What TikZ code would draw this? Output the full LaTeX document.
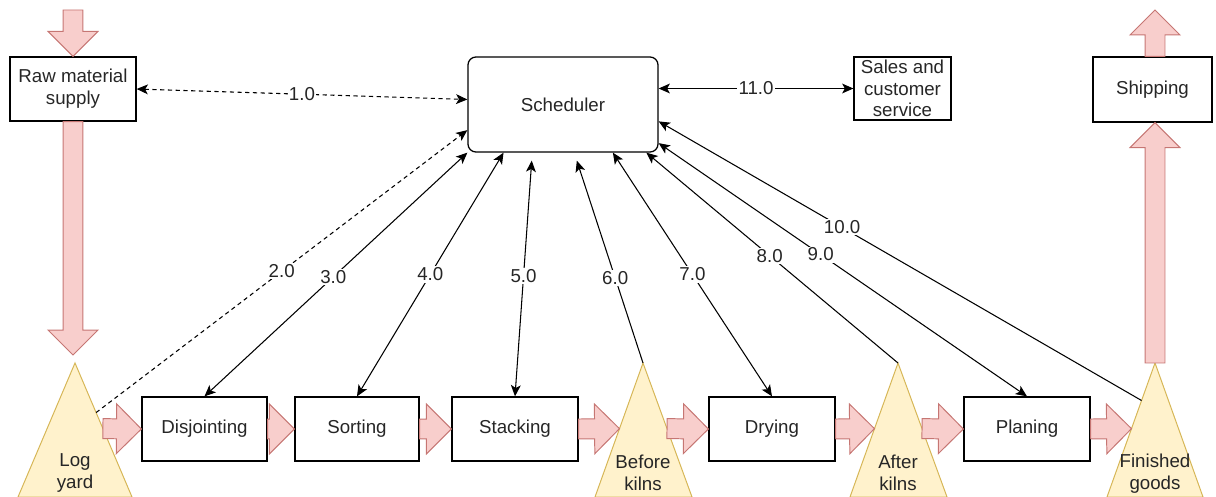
\documentclass[tikz,border=0pt]{standalone}
\usepackage{fontspec}
\setmainfont{Liberation Sans}
\usepackage{tikz}
\usetikzlibrary{arrows.meta,calc}
\definecolor{flowfill}{HTML}{F8CECC}
\definecolor{flowline}{HTML}{B85450}
\definecolor{pilefill}{HTML}{FFF2CC}
\definecolor{pileline}{HTML}{D6B656}
\newcommand{\diagfont}{\fontsize{13.3}{15.5}\selectfont}
\tikzset{
	box/.style={rectangle,draw,line width=0.9pt,minimum width=3.15cm,minimum height=1.6cm,align=center,font=\diagfont,text=black!85},
	pile/.style={fill=pilefill,draw=pileline,line width=0.7pt},
	piletext/.style={align=center,font=\diagfont,text=black!85,inner sep=0pt},
	flow/.style={fill=flowfill,draw=flowline!80,line width=0.7pt,line join=miter},
	link/.style={line width=0.75pt},
	lbl/.style={fill=white,inner sep=1pt,font=\diagfont,text=black!85}
}
% block arrow from #1 to #2
\newcommand{\flowarrow}[2]{%
  \draw[flow] let \p1=(#1), \p2=(#2), \n1={veclen(\x2-\x1,\y2-\y1)},
    \n2={(\x2-\x1)/\n1}, \n3={(\y2-\y1)/\n1} in
    ({\x1-7.1pt*(\n3)},{\y1+7.1pt*(\n2)})
    -- ({\x2-17.7pt*(\n2)-7.1pt*(\n3)},{\y2-17.7pt*(\n3)+7.1pt*(\n2)})
    -- ({\x2-17.7pt*(\n2)-17.7pt*(\n3)},{\y2-17.7pt*(\n3)+17.7pt*(\n2)})
    -- (\x2,\y2)
    -- ({\x2-17.7pt*(\n2)+17.7pt*(\n3)},{\y2-17.7pt*(\n3)-17.7pt*(\n2)})
    -- ({\x2-17.7pt*(\n2)+7.1pt*(\n3)},{\y2-17.7pt*(\n3)-7.1pt*(\n2)})
    -- ({\x1+7.1pt*(\n3)},{\y1-7.1pt*(\n2)}) -- cycle;
}

\begin{document}
\begin{tikzpicture}[x=0.025cm,y=-0.025cm,>={Stealth[length=8pt,width=7pt,inset=2pt]}]
\useasboundingbox (0,0) rectangle (1216,497);

% piles
\coordinate (logtop) at (75,363);
\coordinate (logL) at (18,497);
\coordinate (logR) at (132,497);
\coordinate (beftop) at (643,363);
\coordinate (befL) at (595,497);
\coordinate (befR) at (692,497);
\coordinate (afttop) at (898,363);
\coordinate (aftL) at (850,497);
\coordinate (aftR) at (947,497);
\coordinate (fintop) at (1155,363);
\coordinate (finL) at (1107,497);
\coordinate (finR) at (1203,497);
\draw[pile] (logtop) -- (logR) -- (logL) -- cycle;
\draw[pile] (beftop) -- (befR) -- (befL) -- cycle;
\draw[pile] (afttop) -- (aftR) -- (aftL) -- cycle;
\draw[pile] (fintop) -- (finR) -- (finL) -- cycle;
\node[piletext] (logyard) at (75,473) {Log\\yard};
\node[piletext] (before) at (643,473) {Before\\kilns};
\node[piletext] (after) at (898,473) {After\\kilns};
\node[piletext] (finished) at (1155,474) {Finished\\goods};

% boxes
\node[box] (raw) at (73,89) {Raw material\\supply};
\node[box,rounded corners=0.2cm,minimum width=4.75cm,minimum height=2.375cm] (sched) at (563,104.5) {Scheduler};
\node[box,inner sep=1pt,minimum width=2.425cm,minimum height=1.575cm] (sales) at (902.5,88.5) {Sales and\\customer\\service};
\node[box,minimum width=2.975cm,minimum height=1.625cm] (ship) at (1152.5,89.5) {Shipping};
\node[box,minimum width=3.125cm] (disj) at (204.5,429) {Disjointing};
\node[box,minimum width=3.1cm] (sort) at (357,429) {Sorting};
\node[box] (stack) at (515,429) {Stacking};
\node[box] (dry) at (772,429) {Drying};
\node[box] (plan) at (1027,429) {Planing};

% material flow
\coordinate (rawin) at (73,10);
\coordinate (login) at (73,355);
\coordinate (shipout) at (1155,10);
\flowarrow{rawin}{raw.north}
\flowarrow{raw.south}{login}
\flowarrow{$(logtop)!0.49!(logR)$}{disj.west}
\flowarrow{disj.east}{sort.west}
\flowarrow{sort.east}{stack.west}
\flowarrow{stack.east}{$(beftop)!0.49!(befL)$}
\flowarrow{$(beftop)!0.49!(befR)$}{dry.west}
\flowarrow{dry.east}{$(afttop)!0.49!(aftL)$}
\flowarrow{$(afttop)!0.49!(aftR)$}{plan.west}
\flowarrow{plan.east}{$(fintop)!0.49!(finL)$}
\flowarrow{fintop}{ship.south -| fintop}
\flowarrow{ship.north -| fintop}{shipout}

% information links
\draw[link,<->,dash pattern=on 3pt off 2.5pt] (raw.east) -- node[lbl]{1.0} (sched.177);
\draw[link,->,dash pattern=on 3pt off 2.5pt] ($(logtop)!0.37!(logR)$) -- node[lbl,pos=0.5]{2.0} (sched.195);
\draw[link,<->] (disj.north) -- node[lbl,pos=0.49]{3.0} (sched.south west);
\draw[link,<->] (sort.north) -- node[lbl,pos=0.5]{4.0} (sched.219);
\draw[link,<->] (stack.north) -- node[lbl,pos=0.51]{5.0} ($(sched.237)+(0,8)$);
\draw[link,->] (beftop) -- node[lbl,pos=0.42]{6.0} ($(sched.286)+(0,8)$);
\draw[link,<->] (dry.north) -- node[lbl,pos=0.5]{7.0} (sched.316);
\draw[link,->] (afttop) -- node[lbl,pos=0.51]{8.0} (sched.330);
\draw[link,<->] (plan.north) -- node[lbl,pos=0.56]{9.0} (sched.338);
\draw[link,->] ($(fintop)!0.28!(finL)$) -- node[lbl,pos=0.62]{10.0} (sched.350);
\draw[link,<->] (sched.east |- sales.west) -- node[lbl]{11.0} (sales.west);
\end{tikzpicture}
\end{document}
